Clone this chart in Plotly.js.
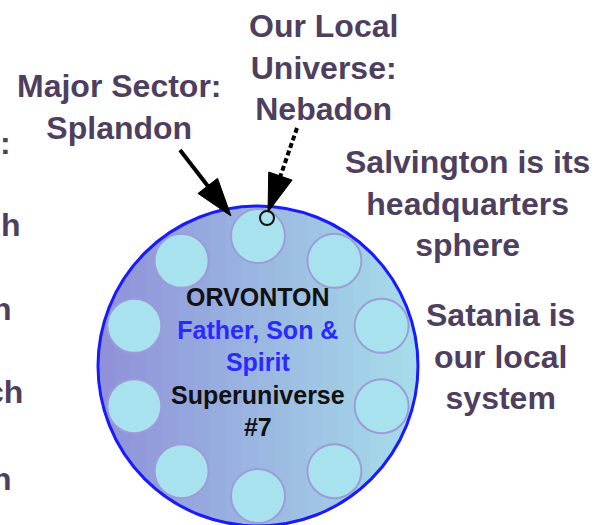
<!DOCTYPE html>
<html>
<head>
<meta charset="utf-8">
<script src="https://cdn.plot.ly/plotly-3.0.1.min.js"></script>
<style>html,body{margin:0;padding:0;background:#fff;}#chart{width:595px;height:525px;}</style>
</head>
<body>
<div id="chart"></div>
<script>
// ---- data ----
const superCenter = [258, 366];
const superRadius = 160;
const ringRadius = 130;
const sectorAngles = [90, 54, 18, -18, -54, -90, -126, -162, 162, 126];
const nebadonPoint = [267, 218];

const labelTexts = [
  'Major Sector:<br>Splandon',
  'Our Local<br>Universe:<br>Nebadon',
  'Salvington is its<br>headquarters<br>sphere',
  'Satania is<br>our local<br>system'
];
const labelX = [119, 323, 467, 500];
const labelY = [107, 67, 203, 356];

const edgeTexts = [':', 'h', 'h', 'ch', 'h'];
const edgeX = [13, 23, 14, 25, 14];
const edgeY = [143, 225, 309, 392, 479];

const innerLines = ['ORVONTON', 'Father, Son &', 'Spirit', 'Superuniverse', '#7'];
const innerColors = ['#111111', '#2a2aff', '#2a2aff', '#111111', '#111111'];

const arrowSolidX = [180, 231];
const arrowSolidY = [150, 216];
const arrowDashX = [297, 268];
const arrowDashY = [128, 212];

// ---- build ----
const W = 595, H = 525;
const cx = superCenter[0], cy = superCenter[1];
const textColor = '#4e3f5e';

function lerp(a, b, t) { return Math.round(a + (b - a) * t); }
const cLeft = [143, 143, 216], cRight = [166, 222, 234];

const shapes = [];
const nb = 20;
for (let i = 0; i < nb; i++) {
  const x0 = cx - superRadius + (2 * superRadius) * i / nb;
  const x1 = cx - superRadius + (2 * superRadius) * (i + 1) / nb;
  const pts = [];
  const ns = 6;
  for (let k = 0; k <= ns; k++) {
    const x = x0 + (x1 - x0) * k / ns;
    const dy = Math.sqrt(Math.max(0, superRadius * superRadius - (x - cx) * (x - cx)));
    pts.push([x, cy - dy]);
  }
  for (let k = ns; k >= 0; k--) {
    const x = x0 + (x1 - x0) * k / ns;
    const dy = Math.sqrt(Math.max(0, superRadius * superRadius - (x - cx) * (x - cx)));
    pts.push([x, cy + dy]);
  }
  const t = (i + 0.5) / nb;
  const col = `rgb(${lerp(cLeft[0], cRight[0], t)},${lerp(cLeft[1], cRight[1], t)},${lerp(cLeft[2], cRight[2], t)})`;
  shapes.push({
    type: 'path', xref: 'x', yref: 'y', layer: 'below',
    path: 'M' + pts.map(p => p[0].toFixed(2) + ',' + p[1].toFixed(2)).join('L') + 'Z',
    fillcolor: col, line: { width: 0.6, color: col }
  });
}
shapes.push({
  type: 'circle', xref: 'x', yref: 'y', layer: 'below',
  x0: cx - superRadius, x1: cx + superRadius, y0: cy - superRadius, y1: cy + superRadius,
  line: { color: '#1a1aff', width: 3 }, fillcolor: 'rgba(0,0,0,0)'
});

const satX = sectorAngles.map(a => cx + ringRadius * Math.cos(a * Math.PI / 180));
const satY = sectorAngles.map(a => cy - ringRadius * Math.sin(a * Math.PI / 180));

const traces = [
  {
    x: satX, y: satY, mode: 'markers', type: 'scatter', hoverinfo: 'skip',
    marker: { size: 54, color: '#a8e2ee', line: { color: '#9c9cd8', width: 2 } }
  },
  {
    x: [nebadonPoint[0]], y: [nebadonPoint[1]], mode: 'markers', type: 'scatter', hoverinfo: 'skip',
    marker: { size: 14, symbol: 'circle-open', color: '#111', line: { color: '#111', width: 2 } }
  },
  {
    x: arrowSolidX, y: arrowSolidY, mode: 'lines+markers', type: 'scatter', hoverinfo: 'skip',
    line: { color: '#000', width: 4 },
    marker: { symbol: 'arrow', angleref: 'previous', size: [0, 40], color: '#000', opacity: 1,
              line: { color: '#000', width: 1 } }
  },
  {
    x: arrowDashX, y: arrowDashY, mode: 'lines+markers', type: 'scatter', hoverinfo: 'skip',
    line: { color: '#000', width: 4, dash: '5px,3px' },
    marker: { symbol: 'arrow', angleref: 'previous', size: [0, 40], color: '#000', opacity: 1,
              line: { color: '#000', width: 1 } }
  }
];

const font = { family: 'Liberation Sans, Arial, sans-serif', size: 32, color: textColor, weight: 'bold' };
const annotations = [];
labelTexts.forEach((t, i) => annotations.push({
  x: labelX[i], y: labelY[i], xref: 'x', yref: 'y', text: t, showarrow: false,
  xanchor: 'center', yanchor: 'middle', align: 'center', font: font
}));
edgeTexts.forEach((t, i) => annotations.push({
  x: edgeX[i], y: edgeY[i], xref: 'x', yref: 'y', text: t, showarrow: false,
  xanchor: 'right', yanchor: 'middle', font: font
}));
annotations.push({
  x: cx, y: 362, xref: 'x', yref: 'y', showarrow: false, xanchor: 'center', yanchor: 'middle', align: 'center',
  text: innerLines.map((l, i) => `<span style="color:${innerColors[i]}">${l}</span>`).join('<br>'),
  font: { family: 'Liberation Sans, Arial, sans-serif', size: 25, color: '#111', weight: 'bold' }
});

const layout = {
  width: W, height: H,
  margin: { l: 0, r: 0, t: 0, b: 0, pad: 0 },
  paper_bgcolor: '#ffffff', plot_bgcolor: '#ffffff',
  xaxis: { range: [0, W], visible: false, fixedrange: true },
  yaxis: { range: [H, 0], visible: false, fixedrange: true },
  showlegend: false,
  shapes: shapes,
  annotations: annotations
};

Plotly.newPlot('chart', traces, layout, { staticPlot: true, displayModeBar: false });
</script>
</body>
</html>
